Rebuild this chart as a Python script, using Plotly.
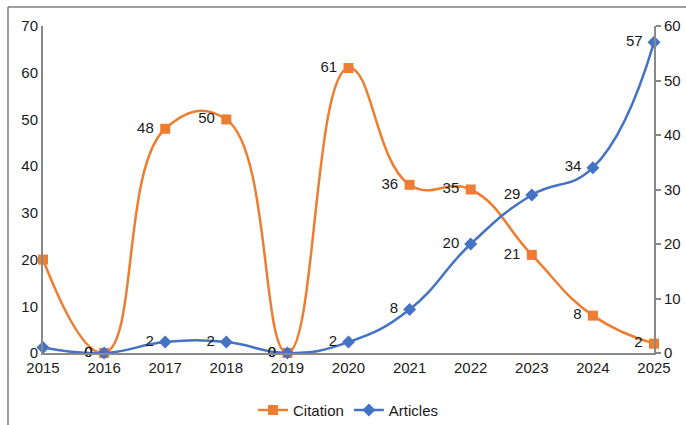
import plotly.graph_objects as go

years = [2015, 2016, 2017, 2018, 2019, 2020, 2021, 2022, 2023, 2024, 2025]
citation = [20, 0, 48, 50, 0, 61, 36, 35, 21, 8, 2]
articles = [1, 0, 2, 2, 0, 2, 8, 20, 29, 34, 57]

ORANGE = "#ED7D31"
BLUE = "#4472C4"
AXIS = "#898989"
FONT = "Liberation Sans, Arial, sans-serif"


def point_labels(values):
    # first point sits on the axis, its label is left out
    return [""] + [str(v) + " " for v in values[1:]]


fig = go.Figure()

fig.add_trace(go.Scatter(
    x=years, y=citation, name="Citation",
    mode="lines+markers+text",
    line=dict(color=ORANGE, width=2.5, shape="spline", smoothing=1.3),
    marker=dict(symbol="square", size=10, color=ORANGE),
    text=point_labels(citation), textposition="middle left",
    textfont=dict(family=FONT, size=15, color="#1a1a1a"),
    cliponaxis=False,
))

fig.add_trace(go.Scatter(
    x=years, y=articles, name="Articles", yaxis="y2",
    mode="lines+markers+text",
    line=dict(color=BLUE, width=2.5, shape="spline", smoothing=1.3),
    marker=dict(symbol="diamond", size=10, color=BLUE),
    text=point_labels(articles), textposition="middle left",
    textfont=dict(family=FONT, size=15, color="#1a1a1a"),
    cliponaxis=False,
))

fig.update_layout(
    width=686, height=425,
    margin=dict(l=43, r=32, t=26, b=72, autoexpand=False),
    paper_bgcolor="white", plot_bgcolor="white",
    font=dict(family=FONT, size=15, color="#1a1a1a"),
    showlegend=True,
    legend=dict(orientation="h", x=0.5, xanchor="center", y=-0.175,
                yanchor="middle", font=dict(size=15)),
    xaxis=dict(range=[2015, 2025], tickvals=years, showgrid=False,
               zeroline=False, showline=True, linecolor=AXIS, linewidth=2,
               ticks="", ticklen=0),
    yaxis=dict(range=[0, 70], dtick=10, showgrid=False, zeroline=False,
               showline=True, linecolor=AXIS, linewidth=2, ticks=""),
    yaxis2=dict(range=[0, 60], dtick=10, overlaying="y", side="right",
                showgrid=False, zeroline=False, showline=True,
                linecolor=AXIS, linewidth=2, ticks="outside", ticklen=5,
                tickcolor=AXIS, tickwidth=2),
    shapes=[
        dict(type="line", xref="paper", yref="paper",
             x0=-0.0573, x1=1.1, y0=1.058, y1=1.058,
             line=dict(color="#7f7f7f", width=1.5)),
        dict(type="line", xref="paper", yref="paper",
             x0=-0.0573, x1=-0.0573, y0=1.058, y1=-0.3,
             line=dict(color="#7f7f7f", width=1.5)),
    ],
)

fig.write_html("out.html")
